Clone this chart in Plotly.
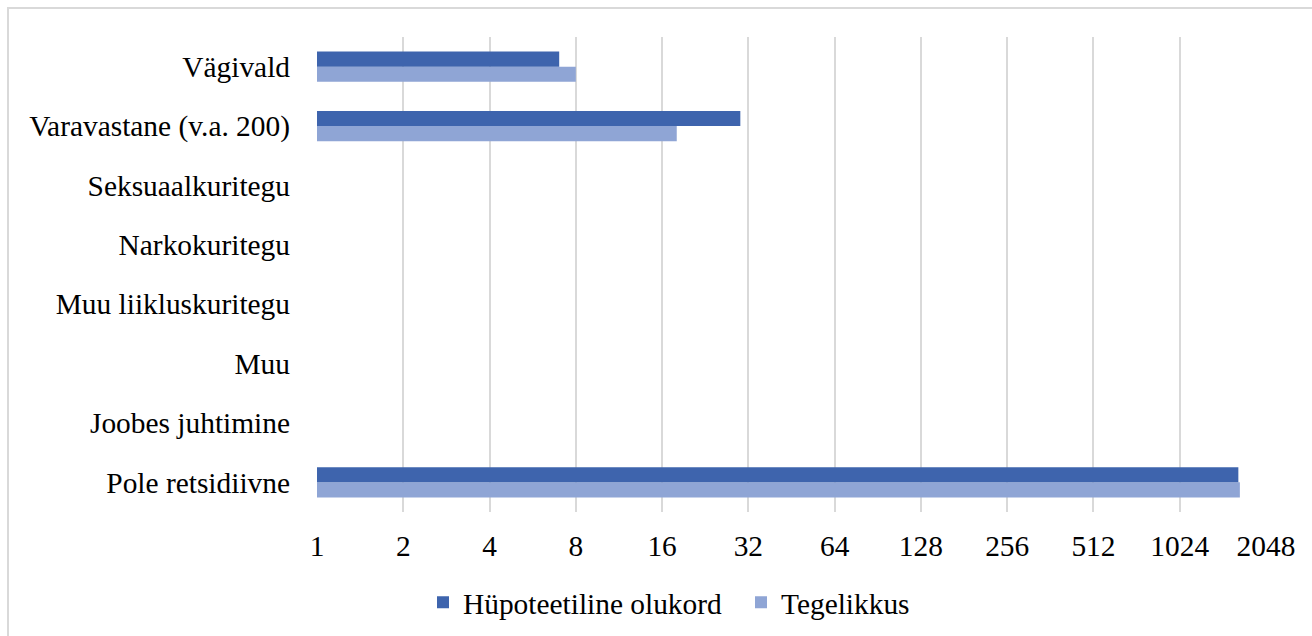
import plotly.graph_objects as go
import math

categories = ["Vägivald", "Varavastane (v.a. 200)", "Seksuaalkuritegu", "Narkokuritegu",
              "Muu liikluskuritegu", "Muu", "Joobes juhtimine", "Pole retsidiivne"]
hupoteetiline = [7, 30, 0, 0, 0, 0, 0, 1640]
tegelikkus = [8, 18, 0, 0, 0, 0, 0, 1660]
tick_vals = [1, 2, 4, 8, 16, 32, 64, 128, 256, 512, 1024, 2048]
tick_text = [str(v) for v in tick_vals]

FONT = "Liberation Serif"
FS = 29.4
C_HUP = "#3e64ad"
C_TEG = "#8fa5d5"

fig = go.Figure()
fig.add_trace(go.Bar(y=categories, x=tegelikkus, orientation="h", name="Tegelikkus",
                     marker=dict(color=C_TEG, line=dict(width=0))))
fig.add_trace(go.Bar(y=categories, x=hupoteetiline, orientation="h", name="Hüpoteetiline olukord",
                     marker=dict(color=C_HUP, line=dict(width=0))))

W, H = 1312, 636
L, R, T, B = 317, 46, 37, 124
pw, ph = W - L - R, H - T - B

fig.update_layout(
    width=W, height=H,
    margin=dict(l=L, r=R, t=T, b=B, autoexpand=False),
    paper_bgcolor="white", plot_bgcolor="white",
    barmode="group", bargap=0.49, bargroupgap=0,
    font=dict(family=FONT, size=FS, color="#000000"),
    showlegend=True,
    legend=dict(orientation="h", x=(423 - L) / pw, xanchor="left", y=-0.136, yanchor="top",
                traceorder="reversed", font=dict(family=FONT, size=FS),
                itemwidth=30, entrywidth=273, entrywidthmode="pixels"),
    xaxis=dict(type="log", range=[0, math.log10(2048)], tickvals=tick_vals, ticktext=tick_text,
               showgrid=True, gridcolor="#d9d9d9", gridwidth=2, zeroline=False, automargin=False,
               showline=False, ticks="", tickfont=dict(family=FONT, size=FS), ticklabelstandoff=14),
    yaxis=dict(categoryorder="array", categoryarray=categories[::-1], showgrid=False, automargin=False,
               showline=False, ticks="", tickfont=dict(family=FONT, size=FS), ticklabelstandoff=26),
    shapes=[dict(type="rect", xref="paper", yref="paper",
                 x0=(8 - L) / pw, x1=(W + 20 - L) / pw,
                 y0=-(H + 20 - T - ph) / ph, y1=(H - 8 - B) / ph,
                 line=dict(color="#d9d9d9", width=2), fillcolor="rgba(0,0,0,0)", layer="below")],
)

fig.write_html("out.html", config={"displayModeBar": False},
               post_script="document.body.style.margin='0px';")
